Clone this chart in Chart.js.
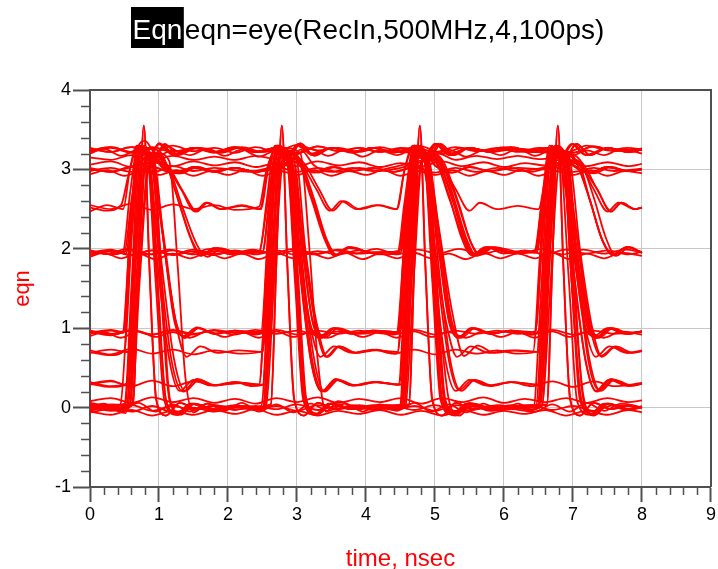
<!DOCTYPE html>
<html>
<head>
<meta charset="utf-8">
<script src="https://cdn.jsdelivr.net/npm/chart.js@4"></script>
<style>
  body { margin: 0; background: #fff; }
  canvas { display: block; }
</style>
</head>
<body>
<canvas id="eyeCanvas" width="718" height="569"></canvas>
<script>
// Axis ranges and tick labels
const xTicks = [0, 1, 2, 3, 4, 5, 6, 7, 8, 9];
const yTicks = [-1, 0, 1, 2, 3, 4];
const titleTag = "Eqn";
const titleText = "eqn=eye(RecIn,500MHz,4,100ps)";
const xTitle = "time, nsec";
const yTitle = "eqn";

// Traces that stay on one level for the whole 8 ns ([time ns, value])
const steadyTraces = [
  [[0,3.26],[0.3,3.22],[0.6,3.28],[0.9,3.2],[1.2,3.3],[1.5,3.23],[1.8,3.27],[2.1,3.21],[2.4,3.28],[2.7,3.22],[3.0,3.31],[3.3,3.24],[3.6,3.27],[3.9,3.22],[4.2,3.28],[4.5,3.23],[4.8,3.29],[5.1,3.2],[5.4,3.27],[5.7,3.23],[6.0,3.28],[6.3,3.22],[6.6,3.27],[6.9,3.21],[7.2,3.3],[7.5,3.24],[7.8,3.27],[8,3.25]],
  [[0,3.2],[0.2,3.26],[0.45,3.17],[0.7,3.25],[0.95,3.16],[1.2,3.24],[1.45,3.18],[1.7,3.26],[1.95,3.17],[2.2,3.25],[2.45,3.16],[2.7,3.24],[2.95,3.18],[3.2,3.26],[3.45,3.17],[3.7,3.25],[3.95,3.16],[4.2,3.24],[4.45,3.18],[4.7,3.26],[4.95,3.17],[5.2,3.25],[5.45,3.16],[5.7,3.24],[5.95,3.18],[6.2,3.26],[6.45,3.17],[6.7,3.25],[6.95,3.16],[7.2,3.24],[7.45,3.18],[7.7,3.26],[8,3.2]],
  [[0,3.06],[0.3,3.1],[0.6,3.03],[0.9,3.09],[1.2,3.04],[1.5,3.1],[1.8,3.05],[2.1,3.09],[2.4,3.03],[2.7,3.08],[3.0,3.04],[3.3,3.1],[3.6,3.05],[3.9,3.09],[4.2,3.03],[4.5,3.08],[4.8,3.04],[5.1,3.1],[5.4,3.04],[5.7,3.09],[6.0,3.03],[6.3,3.08],[6.6,3.05],[6.9,3.1],[7.2,3.04],[7.5,3.09],[7.8,3.04],[8,3.07]],
  [[0,2.94],[0.25,2.99],[0.5,2.92],[0.75,2.98],[1.0,2.93],[1.25,2.99],[1.5,2.92],[1.75,2.98],[2.0,2.93],[2.25,2.99],[2.5,2.92],[2.75,2.98],[3.0,2.93],[3.25,2.99],[3.5,2.92],[3.75,2.98],[4.0,2.93],[4.25,2.99],[4.5,2.92],[4.75,2.98],[5.0,2.93],[5.25,2.99],[5.5,2.92],[5.75,2.98],[6.0,2.93],[6.25,2.99],[6.5,2.92],[6.75,2.98],[7.0,2.93],[7.25,2.99],[7.5,2.92],[7.75,2.98],[8,2.95]],
  [[0,1.98],[0.25,1.94],[0.55,2.0],[0.85,1.93],[1.15,1.99],[1.45,1.94],[1.75,2.0],[2.05,1.93],[2.35,1.99],[2.65,1.94],[2.95,2.0],[3.25,1.93],[3.55,1.98],[3.85,1.94],[4.15,2.0],[4.45,1.93],[4.75,1.99],[5.05,1.94],[5.35,2.0],[5.65,1.93],[5.95,1.98],[6.25,1.94],[6.55,2.0],[6.85,1.93],[7.15,1.99],[7.45,1.94],[7.75,1.99],[8,1.96]],
  [[0,1.9],[0.2,1.95],[0.45,1.88],[0.7,1.94],[0.95,1.87],[1.2,1.94],[1.45,1.88],[1.7,1.95],[1.95,1.88],[2.2,1.94],[2.45,1.87],[2.7,1.95],[2.95,1.88],[3.2,1.94],[3.45,1.88],[3.7,1.95],[3.95,1.87],[4.2,1.94],[4.45,1.88],[4.7,1.95],[4.95,1.88],[5.2,1.94],[5.45,1.87],[5.7,1.95],[5.95,1.88],[6.2,1.94],[6.45,1.88],[6.7,1.95],[6.95,1.87],[7.2,1.94],[7.45,1.88],[7.7,1.95],[8,1.91]],
  [[0,0.9],[0.2,0.95],[0.45,0.88],[0.7,0.96],[0.95,0.89],[1.2,0.95],[1.45,0.88],[1.7,0.96],[1.95,0.89],[2.2,0.95],[2.45,0.88],[2.7,0.96],[2.95,0.89],[3.2,0.95],[3.45,0.88],[3.7,0.96],[3.95,0.89],[4.2,0.95],[4.45,0.88],[4.7,0.96],[4.95,0.89],[5.2,0.95],[5.45,0.88],[5.7,0.96],[5.95,0.89],[6.2,0.95],[6.45,0.88],[6.7,0.96],[6.95,0.89],[7.2,0.95],[7.45,0.88],[7.7,0.96],[8,0.92]],
  [[0,0.08],[0.3,0.12],[0.6,0.06],[0.9,0.13],[1.2,0.07],[1.5,0.12],[1.8,0.06],[2.1,0.11],[2.4,0.05],[2.7,0.12],[3.0,0.07],[3.3,0.13],[3.6,0.06],[3.9,0.11],[4.2,0.07],[4.5,0.12],[4.8,0.05],[5.1,0.12],[5.4,0.07],[5.7,0.13],[6.0,0.06],[6.3,0.11],[6.6,0.07],[6.9,0.12],[7.2,0.06],[7.5,0.12],[7.8,0.07],[8,0.09]],
  [[0,0.0],[0.2,0.05],[0.45,-0.04],[0.7,0.06],[0.95,-0.05],[1.2,0.04],[1.45,-0.05],[1.7,0.05],[1.95,-0.04],[2.2,0.06],[2.45,-0.05],[2.7,0.04],[2.95,-0.06],[3.2,0.05],[3.45,-0.04],[3.7,0.05],[3.95,-0.05],[4.2,0.04],[4.45,-0.04],[4.7,0.06],[4.95,-0.05],[5.2,0.04],[5.45,-0.06],[5.7,0.05],[5.95,-0.04],[6.2,0.05],[6.45,-0.05],[6.7,0.04],[6.95,-0.05],[7.2,0.06],[7.45,-0.04],[7.7,0.05],[8,0.0]],
  [[0,-0.05],[0.3,-0.09],[0.6,-0.03],[0.9,-0.1],[1.2,-0.04],[1.5,-0.09],[1.8,-0.03],[2.1,-0.08],[2.4,-0.02],[2.7,-0.09],[3.0,-0.04],[3.3,-0.1],[3.6,-0.04],[3.9,-0.08],[4.2,-0.03],[4.5,-0.09],[4.8,-0.04],[5.1,-0.1],[5.4,-0.03],[5.7,-0.09],[6.0,-0.04],[6.3,-0.08],[6.6,-0.03],[6.9,-0.1],[7.2,-0.04],[7.5,-0.09],[7.8,-0.03],[8,-0.06]],
];

// Traces starting on an upper level (2.5 .. 3.25)
const startHighTraces = [
  [[0,3.0],[0.3,2.97],[0.6,3.03],[0.9,2.96],[1.2,3.04],[1.5,2.98],[1.8,3.02],[2.3,2.97],[2.6,3.02],[2.88,3.05],[3.0,1.7],[3.12,0.15],[3.3,-0.08],[3.5,0.05],[3.8,-0.02],[4.3,0.03],[4.52,0.0],[4.64,1.6],[4.76,3.3],[4.92,3.15],[5.05,3.32],[5.25,3.18],[5.5,3.27],[5.8,3.23],[6.1,3.28],[6.4,3.22],[6.7,3.27],[7.0,3.21],[7.3,3.29],[7.6,3.23],[8,3.26]],
  [[0,3.24],[0.3,3.28],[0.6,3.22],[0.9,3.26],[1.05,3.18],[1.25,2.7],[1.45,2.15],[1.6,1.91],[1.8,2.01],[2.1,1.94],[2.4,1.98],[2.7,1.93],[3.0,1.98],[3.3,1.94],[3.6,1.99],[3.9,1.94],[4.3,1.96],[4.5,1.95],[4.6,2.6],[4.72,3.25],[4.9,3.15],[5.02,1.6],[5.14,0.08],[5.3,-0.08],[5.5,0.05],[5.8,-0.01],[6.2,0.02],[6.52,0.0],[6.64,1.6],[6.76,3.3],[6.92,3.12],[7.1,3.1],[7.35,2.75],[7.55,2.47],[7.7,2.58],[7.9,2.5],[8,2.52]],
  [[0,2.52],[0.25,2.48],[0.45,2.55],[0.55,2.9],[0.68,3.3],[0.85,3.15],[1.0,1.9],[1.18,0.6],[1.35,0.2],[1.55,0.36],[1.8,0.28],[2.1,0.32],[2.35,0.27],[2.55,0.3],[2.66,1.7],[2.78,3.1],[2.95,3.22],[3.1,3.05],[3.3,2.96],[3.55,3.03],[3.8,2.98],[4.1,3.02],[4.4,2.97],[4.7,3.03],[5.0,2.96],[5.3,3.02],[5.6,2.97],[5.9,3.02],[6.2,2.98],[6.5,3.01],[6.9,3.1],[7.05,3.12],[7.25,2.6],[7.42,2.12],[7.58,1.92],[7.78,2.02],[8,1.95]],
  [[0,3.01],[0.3,2.97],[0.6,3.04],[0.9,3.08],[1.05,2.2],[1.22,1.1],[1.35,0.9],[1.55,1.01],[1.8,0.93],[2.1,0.97],[2.4,0.93],[2.56,0.97],[2.66,2.2],[2.78,3.2],[2.9,3.1],[3.02,1.6],[3.14,0.08],[3.3,-0.08],[3.5,0.05],[3.8,-0.01],[4.1,0.03],[4.4,-0.03],[4.7,0.02],[5.0,-0.04],[5.3,0.03],[5.6,-0.02],[5.9,0.03],[6.25,0.0],[6.5,0.02],[6.62,1.6],[6.75,3.15],[6.92,3.18],[7.05,3.08],[7.25,2.6],[7.42,2.12],[7.58,1.93],[7.78,2.02],[8,1.95]],
  [[0,3.15],[0.3,3.12],[0.6,3.18],[0.9,3.11],[1.2,3.17],[1.5,3.12],[1.8,3.16],[2.1,3.12],[2.4,3.17],[2.7,3.13],[2.98,3.15],[3.12,2.0],[3.3,1.0],[3.44,0.64],[3.62,0.77],[3.85,0.69],[4.15,0.72],[4.46,0.7],[4.57,2.0],[4.7,3.25],[4.86,3.1],[5.05,3.2],[5.3,3.12],[5.6,3.17],[5.9,3.13],[6.2,3.17],[6.5,3.13],[6.92,3.15],[7.06,1.8],[7.22,0.6],[7.38,0.22],[7.58,0.35],[7.8,0.27],[8,0.3]],
  [[0,3.27],[0.3,3.22],[0.6,3.28],[0.82,3.22],[0.95,1.6],[1.08,0.08],[1.25,-0.09],[1.45,0.05],[1.75,-0.02],[2.1,0.02],[2.4,-0.02],[2.62,0.03],[2.7,1.8],[2.78,3.55],[2.86,1.8],[2.96,0.1],[3.1,-0.1],[3.3,0.06],[3.55,-0.02],[3.8,0.02],[4.1,-0.02],[4.5,0.01],[4.61,1.6],[4.73,3.3],[4.88,3.15],[5.02,3.32],[5.22,3.18],[5.5,3.27],[5.8,3.22],[6.1,3.28],[6.4,3.22],[6.7,3.27],[7.0,3.21],[7.3,3.29],[7.6,3.23],[8,3.26]],
  [[0,2.98],[0.3,3.02],[0.6,2.97],[0.9,3.03],[1.2,2.96],[1.5,3.02],[1.8,2.97],[2.1,3.02],[2.4,2.97],[2.7,3.03],[3.0,3.1],[3.2,2.65],[3.4,2.12],[3.55,1.91],[3.75,2.01],[4.1,1.95],[4.48,1.97],[4.58,2.6],[4.7,3.2],[4.86,3.12],[5.03,2.2],[5.2,1.1],[5.34,0.88],[5.54,1.0],[5.8,0.93],[6.1,0.97],[6.45,0.94],[6.55,2.1],[6.67,3.15],[6.83,3.2],[7.0,3.05],[7.25,2.96],[7.5,3.03],[7.8,2.98],[8,3.0]],
  [[0,2.47],[0.25,2.55],[0.48,2.5],[0.58,3.0],[0.7,3.3],[0.86,3.16],[1.0,3.32],[1.2,3.18],[1.5,3.27],[1.8,3.22],[2.1,3.27],[2.4,3.22],[2.7,3.27],[2.86,3.2],[2.98,1.6],[3.1,0.1],[3.28,-0.09],[3.48,0.05],[3.8,-0.02],[4.1,0.02],[4.48,-0.02],[4.6,1.6],[4.72,3.15],[4.86,3.12],[5.02,2.2],[5.2,1.1],[5.34,0.88],[5.52,1.0],[5.8,0.93],[6.1,0.97],[6.4,0.92],[6.7,0.98],[7.0,0.92],[7.3,0.97],[7.6,0.93],[8,0.96]],
  [[0,3.23],[0.3,3.28],[0.6,3.22],[0.84,3.2],[0.98,1.8],[1.15,0.6],[1.3,0.21],[1.5,0.35],[1.75,0.28],[2.1,0.32],[2.45,0.29],[2.56,1.8],[2.68,3.2],[2.84,3.12],[3.0,2.2],[3.18,1.1],[3.32,0.88],[3.52,1.0],[3.78,0.93],[4.1,0.97],[4.46,0.95],[4.58,2.2],[4.7,3.2],[4.85,3.15],[4.97,1.6],[5.1,0.1],[5.28,-0.08],[5.48,0.05],[5.8,-0.02],[6.1,0.02],[6.5,0.0],[6.62,1.6],[6.75,3.3],[6.9,3.16],[7.05,3.32],[7.25,3.18],[7.5,3.27],[7.8,3.22],[8,3.25]],
  [[0,2.55],[0.3,2.5],[0.6,2.57],[0.9,2.49],[1.2,2.56],[1.5,2.5],[1.8,2.55],[2.1,2.49],[2.45,2.53],[2.56,3.0],[2.7,3.25],[2.85,3.15],[3.0,3.08],[3.25,2.96],[3.5,3.03],[3.8,2.98],[4.1,3.02],[4.4,2.97],[4.8,3.05],[4.95,2.4],[5.08,1.0],[5.2,0.1],[5.35,-0.1],[5.55,0.05],[5.85,-0.01],[6.2,0.02],[6.48,0.01],[6.6,1.6],[6.72,3.2],[6.88,3.12],[7.05,2.2],[7.24,1.1],[7.38,0.88],[7.58,1.0],[7.82,0.93],[8,0.96]],
  [[0,3.02],[0.3,2.97],[0.6,3.03],[0.95,3.1],[1.12,3.05],[1.35,2.72],[1.55,2.47],[1.7,2.58],[1.9,2.5],[2.2,2.55],[2.48,2.5],[2.58,3.0],[2.7,3.3],[2.86,3.12],[3.02,2.0],[3.2,1.0],[3.34,0.64],[3.54,0.77],[3.8,0.69],[4.1,0.73],[4.4,0.68],[4.7,0.73],[5.0,0.67],[5.3,0.73],[5.6,0.68],[5.9,0.72],[6.2,0.68],[6.5,0.71],[6.6,2.1],[6.72,3.15],[6.88,3.2],[7.02,3.05],[7.25,2.96],[7.5,3.03],[7.8,2.98],[8,3.0]],
  [[0,3.22],[0.3,3.27],[0.6,3.21],[0.9,3.28],[1.2,3.22],[1.5,3.27],[1.8,3.21],[2.1,3.28],[2.4,3.22],[2.7,3.27],[2.9,3.2],[3.04,1.8],[3.2,0.6],[3.36,0.21],[3.56,0.35],[3.8,0.28],[4.1,0.32],[4.52,0.29],[4.63,1.8],[4.75,3.15],[4.9,3.18],[5.05,3.1],[5.25,2.62],[5.43,2.12],[5.58,1.92],[5.78,2.02],[6.1,1.95],[6.48,1.96],[6.58,2.6],[6.7,3.2],[6.86,3.1],[7.02,2.2],[7.2,1.1],[7.34,0.88],[7.54,1.0],[7.8,0.93],[8,0.96]],
];

// Traces starting on the level near 2
const startMidTraces = [
  [[0,1.95],[0.3,1.99],[0.6,1.92],[0.9,1.98],[1.2,1.93],[1.5,1.99],[1.8,1.94],[2.3,1.97],[2.5,1.95],[2.6,2.6],[2.72,3.2],[2.88,3.1],[3.05,3.25],[3.25,3.05],[3.5,2.97],[3.8,3.02],[4.1,2.98],[4.4,3.03],[4.9,3.12],[5.0,3.1],[5.2,2.65],[5.4,2.15],[5.55,1.92],[5.75,2.02],[6.0,1.94],[6.3,1.98],[6.6,1.93],[6.9,1.99],[7.2,1.94],[7.5,1.98],[7.8,1.93],[8,1.96]],
  [[0,1.96],[0.3,1.93],[0.48,1.97],[0.58,2.7],[0.7,3.3],[0.85,3.15],[0.98,1.6],[1.1,0.1],[1.28,-0.09],[1.48,0.05],[1.8,-0.02],[2.1,0.02],[2.4,-0.03],[2.52,0.02],[2.63,1.6],[2.75,3.3],[2.9,3.16],[3.05,3.33],[3.25,3.17],[3.5,3.27],[3.8,3.22],[4.1,3.27],[4.4,3.21],[4.7,3.28],[5.0,3.22],[5.3,3.28],[5.6,3.23],[5.9,3.27],[6.2,3.22],[6.5,3.27],[6.9,3.2],[7.05,2.0],[7.25,1.0],[7.4,0.65],[7.6,0.76],[7.8,0.69],[8,0.72]],
  [[0,1.93],[0.3,1.97],[0.6,1.92],[0.9,1.98],[1.2,1.92],[1.5,1.97],[1.8,1.92],[2.1,1.98],[2.4,1.93],[2.7,1.98],[3.0,1.92],[3.3,1.97],[3.6,1.93],[3.9,1.98],[4.2,1.93],[4.5,1.95],[4.6,2.6],[4.73,3.3],[4.9,3.15],[5.05,3.1],[5.3,2.75],[5.5,2.48],[5.65,2.58],[5.9,2.5],[6.2,2.54],[6.5,2.5],[6.62,3.0],[6.75,3.3],[6.9,3.15],[7.02,1.6],[7.15,0.1],[7.32,-0.09],[7.52,0.05],[7.8,-0.03],[8,0.01]],
  [[0,1.97],[0.3,1.93],[0.5,1.96],[0.6,2.6],[0.72,3.15],[0.88,3.2],[1.03,3.05],[1.28,2.96],[1.5,3.03],[1.8,2.98],[2.1,3.02],[2.4,2.97],[2.7,3.03],[2.92,3.1],[3.06,1.8],[3.22,0.6],[3.38,0.21],[3.58,0.35],[3.82,0.28],[4.15,0.32],[4.5,0.29],[4.6,1.8],[4.72,3.3],[4.88,3.16],[5.02,3.32],[5.22,3.18],[5.5,3.27],[5.8,3.22],[6.1,3.27],[6.4,3.22],[6.8,3.25],[6.94,1.6],[7.06,0.08],[7.24,-0.09],[7.45,0.05],[7.75,-0.02],[8,0.01]],
  [[0,1.92],[0.3,1.98],[0.52,1.94],[0.62,2.7],[0.75,3.25],[0.9,3.1],[1.05,2.2],[1.24,1.1],[1.38,0.88],[1.58,1.0],[1.82,0.93],[2.1,0.97],[2.5,0.95],[2.6,2.2],[2.72,3.2],[2.88,3.1],[3.03,1.8],[3.2,0.6],[3.36,0.2],[3.56,0.36],[3.8,0.28],[4.1,0.32],[4.47,0.29],[4.58,1.8],[4.7,3.15],[4.85,3.2],[5.0,3.05],[5.25,2.96],[5.5,3.03],[5.8,2.98],[6.2,3.02],[6.6,3.0],[6.95,3.1],[7.1,3.05],[7.35,2.75],[7.55,2.47],[7.7,2.58],[7.9,2.5],[8,2.52]],
  [[0,1.97],[0.3,1.93],[0.6,1.98],[0.9,1.93],[1.2,1.98],[1.5,1.93],[1.8,1.97],[2.2,1.94],[2.5,1.96],[2.6,2.6],[2.72,3.2],[2.86,3.15],[3.0,1.6],[3.12,0.1],[3.3,-0.08],[3.5,0.05],[3.8,-0.02],[4.1,0.02],[4.5,-0.01],[4.62,1.7],[4.74,3.2],[4.9,3.1],[5.06,2.2],[5.24,1.1],[5.38,0.88],[5.58,1.0],[5.82,0.93],[6.1,0.97],[6.45,0.95],[6.56,2.2],[6.68,3.2],[6.84,3.15],[7.0,3.05],[7.25,2.96],[7.5,3.03],[7.8,2.98],[8,3.0]],
];

// Traces starting on a lower level (-0.05 .. 0.95)
const startLowTraces = [
  [[0,0.02],[0.3,-0.03],[0.5,0.03],[0.6,1.5],[0.72,3.3],[0.88,3.15],[1.0,3.33],[1.25,3.18],[1.5,3.27],[1.8,3.22],[2.1,3.28],[2.4,3.22],[2.7,3.27],[3.0,3.2],[3.3,3.29],[3.6,3.23],[3.9,3.27],[4.2,3.22],[4.5,3.26],[4.86,3.2],[4.98,1.6],[5.1,0.1],[5.28,-0.09],[5.5,0.06],[5.8,-0.02],[6.1,0.03],[6.35,-0.03],[6.55,0.02],[6.67,1.5],[6.8,3.1],[6.95,3.2],[7.1,3.05],[7.3,2.95],[7.55,3.03],[7.8,2.98],[8,3.01]],
  [[0,-0.02],[0.3,0.03],[0.62,0.04],[0.7,1.8],[0.78,3.55],[0.86,1.8],[0.96,0.1],[1.1,-0.1],[1.3,0.06],[1.55,-0.02],[1.8,0.03],[2.1,-0.03],[2.4,0.02],[2.7,-0.02],[3.0,0.04],[3.3,-0.03],[3.6,0.02],[3.9,-0.02],[4.3,0.03],[4.62,0.04],[4.7,1.8],[4.78,3.55],[4.86,1.8],[4.96,0.1],[5.1,-0.1],[5.3,0.06],[5.55,-0.03],[5.8,0.02],[6.1,-0.02],[6.4,0.03],[6.7,-0.03],[7.0,0.02],[7.3,-0.04],[7.6,0.03],[8,0.0]],
  [[0,0.04],[0.3,-0.02],[0.6,0.03],[0.9,-0.04],[1.2,0.02],[1.5,-0.03],[1.8,0.02],[2.3,0.0],[2.62,0.04],[2.7,1.8],[2.78,3.55],[2.86,1.8],[2.96,0.1],[3.1,-0.1],[3.3,0.06],[3.55,-0.02],[3.8,0.03],[4.1,-0.03],[4.4,0.02],[4.7,-0.03],[5.0,0.03],[5.3,-0.04],[5.6,0.02],[5.9,-0.02],[6.3,0.03],[6.62,0.04],[6.7,1.8],[6.78,3.55],[6.86,1.8],[6.96,0.1],[7.1,-0.1],[7.3,0.06],[7.55,-0.02],[7.8,0.03],[8,0.0]],
  [[0,0.95],[0.3,0.91],[0.6,0.97],[0.9,0.92],[1.2,0.98],[1.5,0.93],[1.8,0.97],[2.1,0.92],[2.4,0.98],[2.7,0.93],[3.0,0.97],[3.3,0.91],[3.6,0.96],[3.9,0.93],[4.3,0.96],[4.46,0.95],[4.58,2.2],[4.7,3.3],[4.85,3.18],[5.0,3.32],[5.2,3.2],[5.5,3.27],[5.8,3.22],[6.2,3.26],[6.5,3.24],[6.88,3.18],[7.05,2.2],[7.22,1.1],[7.35,0.88],[7.55,1.0],[7.8,0.93],[8,0.96]],
  [[0,0.01],[0.3,-0.04],[0.55,0.02],[0.67,1.6],[0.8,3.15],[0.95,3.2],[1.1,3.08],[1.3,2.55],[1.48,2.1],[1.62,1.92],[1.85,2.01],[2.15,1.95],[2.45,1.97],[2.56,2.5],[2.7,3.2],[2.88,3.12],[3.05,2.2],[3.22,1.1],[3.36,0.88],[3.55,1.0],[3.8,0.93],[4.1,0.97],[4.4,0.92],[4.7,0.98],[5.0,0.92],[5.3,0.97],[5.6,0.93],[5.9,0.97],[6.2,0.93],[6.45,0.96],[6.56,2.3],[6.68,3.25],[6.85,3.15],[6.98,1.6],[7.12,0.1],[7.3,-0.08],[7.5,0.05],[7.8,-0.02],[8,0.02]],
  [[0,0.7],[0.3,0.66],[0.5,0.72],[0.6,2.1],[0.72,3.15],[0.88,3.2],[1.05,3.02],[1.3,2.95],[1.55,3.03],[1.8,2.98],[2.1,3.02],[2.4,2.97],[2.7,3.03],[2.95,3.1],[3.1,2.0],[3.28,1.0],[3.42,0.64],[3.6,0.77],[3.85,0.69],[4.15,0.73],[4.45,0.68],[4.56,1.9],[4.7,3.2],[4.86,3.14],[5.02,1.8],[5.2,0.6],[5.35,0.22],[5.55,0.35],[5.8,0.27],[6.1,0.32],[6.4,0.27],[6.7,0.33],[7.0,0.26],[7.3,0.33],[7.6,0.27],[8,0.31]],
  [[0,0.3],[0.3,0.34],[0.52,0.28],[0.64,1.8],[0.76,3.2],[0.9,3.15],[1.02,1.6],[1.15,0.1],[1.32,-0.09],[1.5,0.05],[1.8,-0.02],[2.1,0.03],[2.4,-0.02],[2.55,0.02],[2.67,1.6],[2.8,3.1],[3.0,3.15],[3.1,3.08],[3.32,2.75],[3.52,2.48],[3.68,2.6],[3.9,2.5],[4.2,2.55],[4.44,2.5],[4.56,3.0],[4.7,3.3],[4.88,3.12],[5.05,2.2],[5.22,1.1],[5.36,0.9],[5.55,1.0],[5.8,0.94],[6.1,0.97],[6.4,0.92],[6.52,1.0],[6.62,2.2],[6.74,3.3],[6.9,3.17],[7.05,3.32],[7.25,3.18],[7.5,3.27],[7.8,3.22],[8,3.25]],
  [[0,0.94],[0.3,0.98],[0.47,0.95],[0.58,2.2],[0.7,3.3],[0.85,3.17],[1.0,3.32],[1.2,3.19],[1.5,3.27],[1.8,3.22],[2.1,3.28],[2.4,3.22],[2.7,3.27],[3.0,3.21],[3.3,3.29],[3.6,3.23],[3.9,3.27],[4.2,3.22],[4.5,3.27],[4.9,3.2],[5.08,3.12],[5.28,2.62],[5.46,2.12],[5.6,1.91],[5.8,2.01],[6.1,1.95],[6.45,1.97],[6.56,2.5],[6.7,3.25],[6.86,3.15],[6.98,1.6],[7.12,0.08],[7.3,-0.09],[7.5,0.05],[7.8,-0.02],[8,0.01]],
  [[0,-0.04],[0.3,0.01],[0.6,-0.05],[0.9,0.02],[1.2,-0.06],[1.5,0.0],[1.8,-0.05],[2.15,0.01],[2.53,-0.03],[2.64,1.7],[2.76,3.2],[2.9,3.12],[3.05,2.2],[3.22,1.12],[3.36,0.88],[3.55,1.0],[3.8,0.94],[4.1,0.97],[4.44,0.94],[4.56,2.1],[4.68,3.15],[4.85,3.2],[5.0,3.05],[5.25,2.96],[5.5,3.03],[5.8,2.98],[6.1,3.02],[6.4,2.97],[6.7,3.03],[7.0,2.97],[7.3,3.02],[7.6,2.98],[8,3.01]],
  [[0,0.03],[0.3,-0.02],[0.58,0.02],[0.7,1.7],[0.82,3.15],[0.98,3.12],[1.1,3.05],[1.32,2.75],[1.52,2.47],[1.68,2.58],[1.9,2.5],[2.2,2.54],[2.46,2.5],[2.58,3.0],[2.72,3.3],[2.88,3.12],[3.0,1.6],[3.12,0.1],[3.3,-0.08],[3.5,0.05],[3.8,-0.02],[4.1,0.02],[4.45,-0.02],[4.57,0.02],[4.69,1.6],[4.82,3.15],[4.98,3.15],[5.12,3.05],[5.32,2.6],[5.5,2.12],[5.64,1.92],[5.84,2.02],[6.15,1.95],[6.46,1.96],[6.57,2.6],[6.7,3.15],[6.85,3.2],[7.0,3.05],[7.25,2.96],[7.5,3.03],[7.8,2.98],[8,3.0]],
  [[0,0.29],[0.3,0.33],[0.6,0.27],[0.9,0.34],[1.2,0.27],[1.5,0.33],[1.8,0.28],[2.2,0.31],[2.5,0.29],[2.6,1.8],[2.72,3.3],[2.88,3.16],[3.02,3.32],[3.22,3.18],[3.5,3.27],[3.8,3.22],[4.1,3.27],[4.4,3.22],[4.86,3.18],[5.0,2.0],[5.18,1.0],[5.32,0.64],[5.52,0.77],[5.78,0.69],[6.1,0.72],[6.42,0.7],[6.52,1.9],[6.65,3.2],[6.8,3.12],[6.98,2.2],[7.15,1.1],[7.3,0.9],[7.5,1.0],[7.75,0.93],[8,0.96]],
  [[0,-0.06],[0.3,-0.02],[0.52,-0.07],[0.63,1.5],[0.76,3.1],[0.9,3.2],[1.05,3.05],[1.28,2.95],[1.5,3.03],[1.8,2.97],[2.1,3.02],[2.4,2.97],[2.75,3.03],[2.95,3.12],[3.08,1.8],[3.25,0.6],[3.4,0.2],[3.6,0.35],[3.85,0.28],[4.15,0.32],[4.48,0.29],[4.6,1.8],[4.72,3.2],[4.88,3.15],[5.0,1.6],[5.13,0.1],[5.3,-0.1],[5.5,0.04],[5.8,-0.04],[6.1,-0.02],[6.42,-0.05],[6.54,1.5],[6.66,3.1],[6.82,3.12],[7.0,2.2],[7.18,1.1],[7.33,0.88],[7.52,1.0],[7.78,0.93],[8,0.96]],
  [[0,0.96],[0.3,0.92],[0.5,0.97],[0.6,2.2],[0.72,3.25],[0.88,3.12],[1.04,1.8],[1.22,0.6],[1.38,0.21],[1.58,0.35],[1.82,0.28],[2.1,0.32],[2.45,0.28],[2.56,1.8],[2.68,3.2],[2.82,3.15],[3.0,3.12],[3.2,2.7],[3.4,2.15],[3.55,1.92],[3.75,2.02],[4.1,1.95],[4.47,1.96],[4.57,2.6],[4.7,3.2],[4.85,3.15],[4.98,1.6],[5.1,0.1],[5.28,-0.08],[5.5,0.05],[5.8,-0.02],[6.2,0.02],[6.62,0.03],[6.7,1.8],[6.78,3.55],[6.86,1.8],[6.96,0.1],[7.1,-0.1],[7.3,0.06],[7.55,-0.02],[7.8,0.02],[8,0.0]],
  [[0,0.0],[0.3,0.04],[0.62,0.03],[0.7,1.8],[0.78,3.55],[0.86,1.8],[0.96,0.1],[1.1,-0.1],[1.3,0.06],[1.55,-0.02],[1.8,0.03],[2.1,-0.02],[2.48,0.02],[2.6,1.6],[2.72,3.3],[2.88,3.16],[3.02,3.32],[3.22,3.18],[3.5,3.27],[3.8,3.22],[4.1,3.27],[4.4,3.22],[4.84,3.2],[4.98,1.8],[5.15,0.6],[5.3,0.21],[5.5,0.35],[5.75,0.28],[6.1,0.32],[6.5,0.29],[6.62,1.7],[6.75,3.15],[6.9,3.18],[7.05,3.08],[7.25,2.6],[7.42,2.12],[7.58,1.92],[7.78,2.02],[8,1.95]],
  [[0,0.06],[0.3,0.02],[0.54,0.07],[0.66,1.8],[0.78,3.2],[0.92,3.15],[1.08,2.0],[1.26,1.0],[1.4,0.64],[1.6,0.77],[1.85,0.69],[2.15,0.72],[2.5,0.7],[2.6,2.0],[2.72,3.25],[2.86,3.12],[2.98,1.6],[3.1,0.1],[3.28,-0.08],[3.5,0.05],[3.8,-0.02],[4.2,0.02],[4.62,0.03],[4.7,1.8],[4.78,3.55],[4.86,1.8],[4.96,0.1],[5.1,-0.1],[5.3,0.06],[5.55,-0.02],[5.8,0.02],[6.1,-0.02],[6.5,0.02],[6.62,1.6],[6.74,3.25],[6.9,3.12],[7.06,3.1],[7.3,2.75],[7.5,2.47],[7.66,2.58],[7.9,2.5],[8,2.52]],
  [[0,0.69],[0.3,0.73],[0.55,0.7],[0.66,2.0],[0.78,3.2],[0.92,3.15],[1.04,1.6],[1.16,0.1],[1.33,-0.08],[1.52,0.05],[1.8,-0.02],[2.1,0.02],[2.4,-0.03],[2.7,0.02],[3.0,-0.04],[3.3,0.03],[3.6,-0.02],[3.9,0.03],[4.2,-0.01],[4.52,0.02],[4.64,1.6],[4.76,3.15],[4.92,3.18],[5.06,3.1],[5.26,2.62],[5.44,2.12],[5.58,1.92],[5.78,2.02],[6.1,1.95],[6.44,1.97],[6.55,2.6],[6.68,3.2],[6.84,3.12],[7.0,2.0],[7.18,1.0],[7.33,0.64],[7.53,0.77],[7.78,0.69],[8,0.71]],
  [[0,-0.01],[0.3,0.03],[0.56,-0.02],[0.68,1.5],[0.8,3.1],[0.95,3.2],[1.1,3.04],[1.32,2.95],[1.55,3.03],[1.8,2.98],[2.1,3.02],[2.4,2.97],[2.7,3.03],[3.0,2.97],[3.3,3.02],[3.6,2.97],[3.9,3.02],[4.2,2.98],[4.5,3.02],[4.9,3.1],[5.05,1.8],[5.22,0.6],[5.38,0.21],[5.58,0.35],[5.82,0.28],[6.1,0.32],[6.5,0.29],[6.6,1.8],[6.72,3.2],[6.86,3.12],[6.98,1.6],[7.1,0.1],[7.28,-0.08],[7.48,0.05],[7.78,-0.02],[8,0.01]],
  [[0,0.97],[0.3,0.93],[0.6,0.98],[0.9,0.92],[1.2,0.97],[1.5,0.92],[1.8,0.98],[2.15,0.94],[2.48,0.96],[2.58,2.2],[2.7,3.25],[2.85,3.15],[2.97,1.6],[3.09,0.1],[3.26,-0.09],[3.46,0.05],[3.78,-0.02],[4.1,0.02],[4.54,0.0],[4.66,1.6],[4.78,3.3],[4.94,3.16],[5.08,3.32],[5.28,3.18],[5.5,3.27],[5.8,3.22],[6.1,3.27],[6.4,3.22],[6.9,3.2],[7.1,3.12],[7.3,2.65],[7.48,2.13],[7.62,1.91],[7.82,2.02],[8,1.95]],
  [[0,0.05],[0.3,0.0],[0.44,0.04],[0.56,1.6],[0.67,3.2],[0.8,3.36],[0.95,3.2],[1.1,3.3],[1.3,3.22],[1.6,3.27],[1.9,3.21],[2.2,3.28],[2.5,3.22],[2.8,3.27],[3.05,3.2],[3.18,2.0],[3.3,0.6],[3.42,-0.05],[3.6,0.08],[3.85,0.0],[4.2,0.03],[4.55,0.0],[4.66,1.6],[4.8,3.1],[4.95,3.2],[5.12,3.1],[5.35,2.55],[5.52,2.08],[5.66,1.93],[5.86,2.02],[6.2,1.96],[6.45,1.95],[6.55,2.6],[6.68,3.2],[6.84,3.12],[7.0,1.8],[7.18,0.6],[7.35,0.2],[7.55,0.36],[7.8,0.28],[8,0.3]],
  [[0,0.3],[0.3,0.26],[0.58,0.32],[0.7,1.5],[0.84,3.05],[1.0,3.15],[1.15,3.0],[1.35,2.5],[1.55,2.05],[1.7,1.9],[1.9,2.0],[2.2,1.94],[2.46,1.97],[2.56,2.6],[2.68,3.3],[2.84,3.16],[3.0,3.3],[3.2,3.2],[3.5,3.27],[3.8,3.21],[4.1,3.27],[4.4,3.22],[4.88,3.2],[5.05,2.3],[5.25,1.2],[5.42,0.65],[5.62,0.78],[5.86,0.69],[6.2,0.72],[6.5,0.7],[6.6,2.0],[6.72,3.2],[6.86,3.1],[7.0,1.6],[7.15,0.15],[7.3,-0.1],[7.5,0.05],[7.8,-0.02],[8,0.0]],
  [[0,0.72],[0.3,0.67],[0.6,0.74],[0.9,0.68],[1.2,0.73],[1.5,0.67],[1.8,0.72],[2.2,0.68],[2.5,0.71],[2.6,2.0],[2.73,3.15],[2.9,3.2],[3.05,3.1],[3.25,2.62],[3.43,2.12],[3.58,1.92],[3.78,2.02],[4.1,1.95],[4.48,1.96],[4.58,2.6],[4.7,3.3],[4.86,3.16],[5.0,3.32],[5.2,3.18],[5.5,3.27],[5.8,3.22],[6.1,3.27],[6.4,3.22],[6.85,3.2],[7.0,1.8],[7.18,0.6],[7.33,0.21],[7.52,0.35],[7.78,0.28],[8,0.3]],
  [[0,-0.03],[0.3,0.02],[0.5,-0.02],[0.62,1.7],[0.74,3.2],[0.9,3.1],[1.06,2.2],[1.24,1.1],[1.37,0.88],[1.56,1.0],[1.8,0.93],[2.1,0.97],[2.4,0.92],[2.7,0.98],[3.0,0.92],[3.3,0.97],[3.6,0.93],[3.9,0.97],[4.3,0.93],[4.5,0.96],[4.6,2.2],[4.72,3.25],[4.88,3.12],[5.02,1.6],[5.15,0.1],[5.32,-0.08],[5.52,0.05],[5.8,-0.02],[6.2,0.02],[6.46,0.01],[6.57,1.6],[6.69,3.3],[6.84,3.16],[7.0,3.32],[7.2,3.18],[7.5,3.27],[7.8,3.22],[8,3.25]],
  [[0,0.01],[0.3,-0.03],[0.6,0.02],[0.72,1.6],[0.85,3.05],[1.0,3.2],[1.15,3.1],[1.27,1.8],[1.38,0.4],[1.5,-0.06],[1.7,0.05],[1.95,-0.01],[2.25,0.02],[2.52,0.0],[2.64,1.7],[2.76,3.2],[2.92,3.12],[3.08,2.2],[3.26,1.12],[3.4,0.88],[3.6,1.0],[3.85,0.94],[4.15,0.97],[4.46,0.95],[4.56,2.2],[4.68,3.25],[4.84,3.15],[5.0,3.12],[5.2,2.68],[5.38,2.15],[5.53,1.92],[5.73,2.02],[6.1,1.95],[6.45,1.96],[6.55,2.6],[6.66,3.3],[6.82,3.16],[6.98,3.32],[7.18,3.18],[7.5,3.27],[7.8,3.22],[8,3.25]],
  [[0,0.93],[0.3,0.97],[0.48,0.94],[0.58,2.2],[0.7,3.25],[0.84,3.15],[0.97,1.6],[1.1,0.1],[1.27,-0.09],[1.47,0.05],[1.75,-0.02],[2.1,0.02],[2.5,0.0],[2.62,1.6],[2.74,3.15],[2.9,3.15],[3.05,3.08],[3.28,2.75],[3.48,2.48],[3.64,2.6],[3.86,2.5],[4.15,2.55],[4.45,2.5],[4.56,3.0],[4.68,3.3],[4.84,3.15],[4.98,1.6],[5.1,0.1],[5.28,-0.08],[5.48,0.05],[5.8,-0.02],[6.2,0.02],[6.55,0.03],[6.66,1.8],[6.78,3.2],[6.94,3.15],[7.1,2.0],[7.28,1.0],[7.42,0.64],[7.62,0.77],[7.86,0.69],[8,0.71]],
  [[0,0.32],[0.3,0.27],[0.55,0.31],[0.66,1.8],[0.78,3.3],[0.94,3.16],[1.08,3.32],[1.28,3.18],[1.55,3.27],[1.85,3.22],[2.15,3.27],[2.45,3.22],[2.8,3.25],[3.0,3.15],[3.2,2.68],[3.4,2.15],[3.55,1.92],[3.75,2.02],[4.1,1.95],[4.46,1.97],[4.56,2.6],[4.68,3.25],[4.84,3.15],[4.96,1.6],[5.08,0.1],[5.25,-0.09],[5.45,0.05],[5.75,-0.02],[6.1,0.02],[6.5,0.0],[6.62,1.8],[6.74,3.2],[6.9,3.12],[7.06,1.8],[7.24,0.6],[7.4,0.21],[7.6,0.35],[7.85,0.28],[8,0.3]],
];

const fontFamily = '"Liberation Sans", Arial, sans-serif';
const traceColor = "#ff0000";
const axisColor = "#505050";
const gridColor = "#c8c8c8";

// Kaikki käyrät samaan listaan, yksi dataset per käyrä
const allTraces = [...steadyTraces, ...startHighTraces, ...startMidTraces, ...startLowTraces];
const datasets = allTraces.map((trace) => ({
  data: trace,
  borderColor: traceColor,
  borderWidth: 1.8,
  pointRadius: 0,
  cubicInterpolationMode: "monotone",
}));

// Otsikko, akselien nimet, pienet tikit ja kehyksen ylä- ja oikea reuna
const decorPlugin = {
  id: "decor",
  afterDraw(chart) {
    const { ctx, chartArea, scales } = chart;
    const { x, y } = scales;
    ctx.save();

    // Title with the black "Eqn" tag
    ctx.font = `28px ${fontFamily}`;
    ctx.textBaseline = "alphabetic";
    ctx.textAlign = "left";
    const tagWidth = ctx.measureText(titleTag).width;
    ctx.fillStyle = "#000";
    ctx.fillRect(131, 7, tagWidth + 3, 41);
    ctx.fillStyle = "#fff";
    ctx.fillText(titleTag, 132.5, 39);
    ctx.fillStyle = "#000";
    ctx.fillText(titleText, 131 + tagWidth + 4, 39);

    // Axis titles
    ctx.fillStyle = traceColor;
    ctx.textAlign = "center";
    ctx.font = `24px ${fontFamily}`;
    ctx.fillText(xTitle, (chartArea.left + chartArea.right) / 2, 566);
    ctx.font = `22px ${fontFamily}`;
    ctx.translate(29, (chartArea.top + chartArea.bottom) / 2);
    ctx.rotate(-Math.PI / 2);
    ctx.fillText(yTitle, 0, 0);
    ctx.setTransform(1, 0, 0, 1, 0, 0);

    // Minor ticks every 0.2
    ctx.strokeStyle = axisColor;
    ctx.lineWidth = 1.5;
    ctx.beginPath();
    for (let i = 1; i < 45; i++) {
      if (i % 5 === 0) continue;
      const px = Math.round(x.getPixelForValue(i / 5)) + 0.5;
      ctx.moveTo(px, chartArea.bottom);
      ctx.lineTo(px, chartArea.bottom + 8);
    }
    for (let i = 1; i < 25; i++) {
      if (i % 5 === 0) continue;
      const py = Math.round(y.getPixelForValue(-1 + i / 5)) + 0.5;
      ctx.moveTo(chartArea.left, py);
      ctx.lineTo(chartArea.left - 9, py);
    }
    ctx.stroke();

    // Top and right frame
    ctx.lineWidth = 2;
    ctx.beginPath();
    ctx.moveTo(chartArea.left, chartArea.top);
    ctx.lineTo(chartArea.right, chartArea.top);
    ctx.lineTo(chartArea.right, chartArea.bottom);
    ctx.stroke();
    ctx.restore();
  },
};

const eyeChart = new Chart(document.getElementById("eyeCanvas"), {
  type: "line",
  data: { datasets },
  options: {
    responsive: false,
    animation: false,
    devicePixelRatio: 1,
    layout: { autoPadding: false, padding: { left: 0, top: 90, right: 1, bottom: 0 } },
    plugins: { legend: { display: false }, tooltip: { enabled: false }, title: { display: false } },
    scales: {
      x: {
        type: "linear",
        min: xTicks[0],
        max: xTicks[xTicks.length - 1],
        afterFit: (scale) => { scale.height = 82; },
        afterBuildTicks: (scale) => { scale.ticks = xTicks.map((v) => ({ value: v })); },
        ticks: { color: "#000", font: { family: fontFamily, size: 18 }, padding: 2, maxRotation: 0 },
        grid: { color: gridColor, lineWidth: 1, tickLength: 15, tickColor: axisColor, tickWidth: 2 },
        border: { color: axisColor, width: 2 },
      },
      y: {
        type: "linear",
        min: yTicks[0],
        max: yTicks[yTicks.length - 1],
        afterFit: (scale) => { scale.width = 90; },
        afterBuildTicks: (scale) => { scale.ticks = yTicks.map((v) => ({ value: v })); },
        ticks: { color: "#000", font: { family: fontFamily, size: 18 }, padding: 2 },
        grid: { color: gridColor, lineWidth: 1, tickLength: 17, tickColor: axisColor, tickWidth: 2 },
        border: { color: axisColor, width: 2 },
      },
    },
  },
  plugins: [decorPlugin],
});
</script>
</body>
</html>
